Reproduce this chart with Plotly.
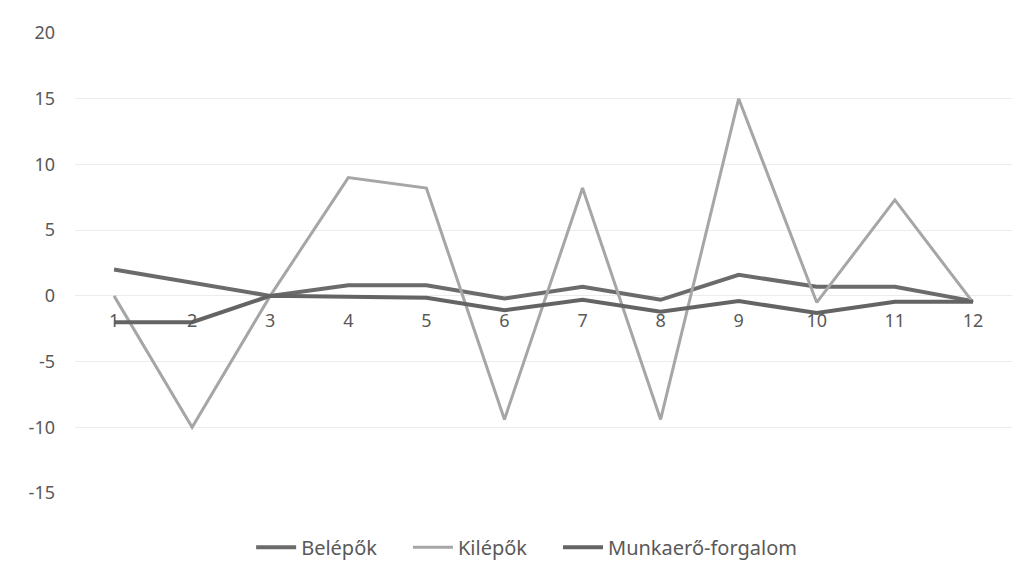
import plotly.graph_objects as go

months = ["1", "2", "3", "4", "5", "6", "7", "8", "9", "10", "11", "12"]
belepok = [2, 1, 0, 0.8, 0.8, -0.2, 0.7, -0.3, 1.6, 0.7, 0.7, -0.4]
kilepok = [0, -10, 0, 9, 8.2, -9.4, 8.2, -9.4, 15, -0.5, 7.3, -0.5]
munkaero = [-2, -2, 0, -0.1, -0.15, -1.1, -0.3, -1.2, -0.4, -1.3, -0.45, -0.45]
y_ticks = [-15, -10, -5, 0, 5, 10, 15, 20]
y_labels = ["-15", "-10", "-5", "0", "5", "10", "15", "20"]
series_names = ["Belépők", "Kilépők", "Munkaerő-forgalom"]

font_family = "Noto Sans, Open Sans, sans-serif"
text_color = "#595959"
pad = "\u00a0" * 5  # extra spacing between legend entries

fig = go.Figure()
fig.add_trace(go.Scatter(x=months, y=belepok, name=series_names[0] + pad, mode="lines",
                         line=dict(color="#6b6b6b", width=4)))
fig.add_trace(go.Scatter(x=months, y=kilepok, name=series_names[1] + pad, mode="lines",
                         line=dict(color="#a6a6a6", width=3)))
fig.add_trace(go.Scatter(x=months, y=munkaero, name=series_names[2], mode="lines",
                         line=dict(color="#646464", width=4)))

ymin, ymax = -15, 20
fig.update_layout(
    width=1027, height=585,
    margin=dict(l=67, r=23, t=20, b=100),
    paper_bgcolor="white", plot_bgcolor="white",
    font=dict(family=font_family, size=18, color=text_color),
    showlegend=True,
    legend=dict(orientation="h", x=0.482, xanchor="center", y=-0.118, yanchor="middle",
                font=dict(size=20, color=text_color), itemwidth=40,
                traceorder="normal"),
    xaxis=dict(type="category", range=[-0.5, len(months) - 0.5],
               showgrid=False, zeroline=False, showline=False,
               anchor="free", position=(0 - ymin) / (ymax - ymin),
               ticks="", tickfont=dict(size=18, color=text_color),
               ticklabelstandoff=12),
    yaxis=dict(range=[ymin, ymax], tickvals=y_ticks, ticktext=y_labels, showgrid=True,
               gridcolor="#ececec", gridwidth=1, zeroline=False, showline=False,
               ticks="", tickfont=dict(size=18, color=text_color),
               ticklabelstandoff=19),
)

fig.write_html("out.html")
